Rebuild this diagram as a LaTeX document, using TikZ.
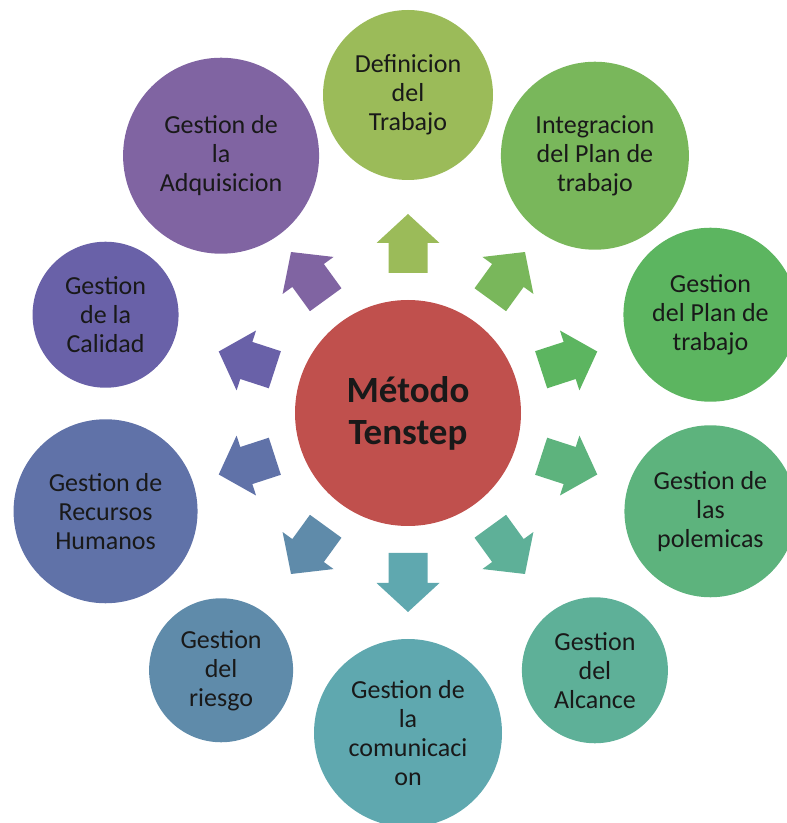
\documentclass[tikz,border=0pt]{standalone}
\usepackage{fontspec}
\setmainfont{Carlito}
\usetikzlibrary{calc}
\definecolor{cA}{HTML}{9BBB59}
\definecolor{cB}{HTML}{79B75B}
\definecolor{cC}{HTML}{5CB560}
\definecolor{cD}{HTML}{5DB37D}
\definecolor{cE}{HTML}{5EB098}
\definecolor{cF}{HTML}{5FA8AF}
\definecolor{cG}{HTML}{5F8BAA}
\definecolor{cH}{HTML}{6072A8}
\definecolor{cI}{HTML}{6961A8}
\definecolor{cJ}{HTML}{8064A2}
\definecolor{cM}{HTML}{C0504D}
\tikzset{
  bubble/.style={circle, inner sep=0pt, align=center, text=black!90,
    font=\fontsize{26}{29}\selectfont},
  hub/.style={circle, fill=cM, minimum size=226pt, inner sep=0pt, align=center,
    text=black!90, font=\fontsize{37}{42}\selectfont\bfseries},
}
\newcommand{\blockarrow}[2]{%
  \begin{scope}[shift={(hub.center)}, rotate=#1]
    \fill[#2] (140,-19.5) -- (170,-19.5) -- (170,-31.5) -- (199,0) -- (170,31.5) -- (170,19.5) -- (140,19.5) -- cycle;
  \end{scope}}
\begin{document}
\begin{tikzpicture}[x=1pt,y=1pt]
\useasboundingbox (0,0) rectangle (787,823);
\clip (0,0) rectangle (787,823);
\node[hub] (hub) at (408,410) {Método\\Tenstep};
\node[bubble, fill=cA, minimum size=170pt] (n1) at ($(hub)+(90:318)$) {Definicion\\del\\Trabajo};
\node[bubble, fill=cB, minimum size=188pt] (n2) at ($(hub)+(54:318)$) {Integracion\\del Plan de\\trabajo};
\node[bubble, fill=cC, minimum size=174pt] (n3) at ($(hub)+(18:318)$) {Gestion\\del Plan de\\trabajo};
\node[bubble, fill=cD, minimum size=172pt] (n4) at ($(hub)+(-18:318)$) {Gestion de\\las\\polemicas};
\node[bubble, fill=cE, minimum size=146pt] (n5) at ($(hub)+(-54:318)$) {Gestion\\del\\Alcance};
\node[bubble, fill=cF, minimum size=188pt] (n6) at ($(hub)+(-90:320)$) {Gestion de\\la\\comunicaci\\on};
\node[bubble, fill=cG, minimum size=144pt] (n7) at ($(hub)+(-126:318)$) {Gestion\\del\\riesgo};
\node[bubble, fill=cH, minimum size=184pt] (n8) at ($(hub)+(-162:318)$) {Gestion de\\Recursos\\Humanos};
\node[bubble, fill=cI, minimum size=146pt] (n9) at ($(hub)+(162:318)$) {Gestion\\de la\\Calidad};
\node[bubble, fill=cJ, minimum size=196pt] (n10) at ($(hub)+(126:318)$) {Gestion de\\la\\Adquisicion};
\blockarrow{90}{cA}
\blockarrow{54}{cB}
\blockarrow{18}{cC}
\blockarrow{-18}{cD}
\blockarrow{-54}{cE}
\blockarrow{-90}{cF}
\blockarrow{-126}{cG}
\blockarrow{-162}{cH}
\blockarrow{162}{cI}
\blockarrow{126}{cJ}
\end{tikzpicture}
\end{document}
